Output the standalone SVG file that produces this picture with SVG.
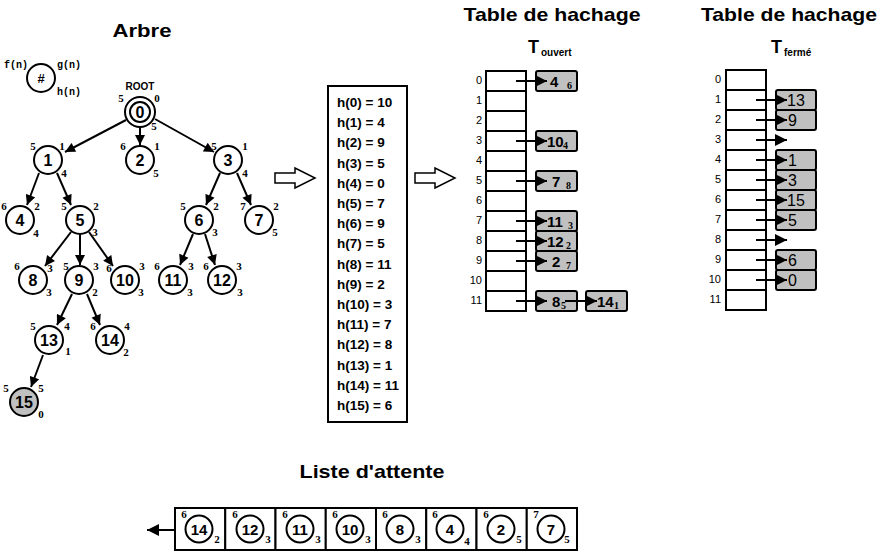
<svg xmlns="http://www.w3.org/2000/svg" width="884" height="557" viewBox="0 0 884 557">
<defs>
<marker id="ah" viewBox="0 0 10 10" refX="10" refY="5" markerWidth="11" markerHeight="10" markerUnits="userSpaceOnUse" orient="auto"><path d="M0,0 L10,5 L0,10 z" fill="#000"/></marker>
<marker id="ahb" viewBox="0 0 10 10" refX="10" refY="5" markerWidth="12" markerHeight="12" markerUnits="userSpaceOnUse" orient="auto"><path d="M0,0 L10,5 L0,10 z" fill="#000"/></marker>
</defs>
<style>
.t{font-family:"Liberation Sans",Arial,sans-serif;font-weight:bold;fill:#000}
.title{font-size:19px}
.num{font-size:16px;text-anchor:middle}
.lab{font-family:"Liberation Serif","Times New Roman",serif;font-weight:bold;font-size:11px;text-anchor:middle;fill:#000}
.leg{font-family:"Liberation Mono","Courier New",monospace;font-weight:bold;font-size:10px;fill:#000}
.nc{fill:#fff;stroke:#000;stroke-width:2}
.gc{fill:#c0c0c0;stroke:#000;stroke-width:2}
.edge{stroke:#000;stroke-width:2;fill:none;marker-end:url(#ah)}
.tarr{stroke:#000;stroke-width:2;fill:none;marker-end:url(#ahb)}
.cell{fill:#fff;stroke:#000;stroke-width:2}
.box{fill:#c0c0c0;stroke:#000;stroke-width:2}
.idx{font-family:"Liberation Sans",Arial,sans-serif;font-size:11px;text-anchor:end;fill:#000}
.bn{font-family:"Liberation Sans",Arial,sans-serif;font-weight:bold;font-size:15px;fill:#000}
.fn{font-family:"Liberation Sans",Arial,sans-serif;font-size:16px;fill:#000}
.sub{font-family:"Liberation Serif","Times New Roman",serif;font-weight:bold;font-size:10px;fill:#000}
.hl{font-family:"Liberation Sans",Arial,sans-serif;font-weight:bold;font-size:13.5px;fill:#000}
.hol{fill:#fff;stroke:#000;stroke-width:1.5}
</style>
<rect x="0" y="0" width="884" height="557" fill="#fff"/>

<!-- Titles -->
<text class="t title" x="142" y="37" text-anchor="middle" textLength="59" lengthAdjust="spacingAndGlyphs">Arbre</text>
<text class="t title" x="552" y="21" text-anchor="middle" textLength="177" lengthAdjust="spacingAndGlyphs">Table de hachage</text>
<text class="t title" x="789" y="21" text-anchor="middle" textLength="176" lengthAdjust="spacingAndGlyphs">Table de hachage</text>
<text class="t" x="528" y="53" font-size="18">T</text>
<text class="t" x="541" y="56" font-size="10">ouvert</text>
<text class="t" x="771" y="53" font-size="18">T</text>
<text class="t" x="784" y="56" font-size="10">fermé</text>
<text class="t title" x="372" y="478" text-anchor="middle" textLength="145" lengthAdjust="spacingAndGlyphs">Liste d'attente</text>

<!-- Legend -->
<g id="legend">
<circle class="nc" cx="41" cy="78" r="14"/>
<text class="t" x="41" y="83" font-size="13" text-anchor="middle">#</text>
<text class="leg" x="4" y="68">f(n)</text>
<text class="leg" x="57" y="68">g(n)</text>
<text class="leg" x="57" y="95">h(n)</text>
</g>

<!-- Connectors -->
<g id="edges">
<line class="edge" x1="126" y1="120" x2="65" y2="152"/>
<line class="edge" x1="140" y1="127" x2="140" y2="145"/>
<line class="edge" x1="155" y1="119" x2="214" y2="152"/>
<line class="edge" x1="39" y1="173" x2="27" y2="205"/>
<line class="edge" x1="57" y1="173" x2="71" y2="205"/>
<line class="edge" x1="220" y1="173" x2="206" y2="205"/>
<line class="edge" x1="237" y1="173" x2="251" y2="205"/>
<line class="edge" x1="71" y1="232" x2="45" y2="266"/>
<line class="edge" x1="80" y1="234" x2="80" y2="265"/>
<line class="edge" x1="89" y1="232" x2="113" y2="266"/>
<line class="edge" x1="193" y1="234" x2="180" y2="265"/>
<line class="edge" x1="205" y1="234" x2="215" y2="265"/>
<line class="edge" x1="72" y1="294" x2="57" y2="325"/>
<line class="edge" x1="87" y1="294" x2="100" y2="325"/>
<line class="edge" x1="43" y1="355" x2="31" y2="387"/>
</g>

<!-- Tree nodes -->
<g id="n0">
<text class="t" x="140" y="90" font-size="10" text-anchor="middle">ROOT</text>
<circle class="nc" cx="140" cy="112" r="15"/>
<circle class="nc" cx="140" cy="112" r="10"/>
<text class="t num" x="140" y="118">0</text>
<text class="lab" x="121" y="102">5</text><text class="lab" x="157" y="102">0</text><text class="lab" x="154" y="130">5</text>
</g>
<g id="n1"><circle class="nc" cx="48" cy="160" r="14"/><text class="t num" x="48" y="166">1</text>
<text class="lab" x="33" y="150">5</text><text class="lab" x="62" y="150">1</text><text class="lab" x="64" y="177">4</text></g>
<g id="n2"><circle class="nc" cx="140" cy="160" r="14"/><text class="t num" x="140" y="166">2</text>
<text class="lab" x="123" y="150">6</text><text class="lab" x="157" y="150">1</text><text class="lab" x="156" y="177">5</text></g>
<g id="n3"><circle class="nc" cx="228" cy="160" r="14"/><text class="t num" x="228" y="166">3</text>
<text class="lab" x="214" y="150">5</text><text class="lab" x="245" y="150">1</text><text class="lab" x="245" y="177">4</text></g>
<g id="n4"><circle class="nc" cx="20" cy="220" r="14"/><text class="t num" x="20" y="226">4</text>
<text class="lab" x="4" y="210">6</text><text class="lab" x="37" y="210">2</text><text class="lab" x="36" y="237">4</text></g>
<g id="n5"><circle class="nc" cx="80" cy="220" r="14"/><text class="t num" x="80" y="226">5</text>
<text class="lab" x="64" y="210">5</text><text class="lab" x="96" y="210">2</text><text class="lab" x="95" y="236">3</text></g>
<g id="n6"><circle class="nc" cx="199" cy="220" r="14"/><text class="t num" x="199" y="226">6</text>
<text class="lab" x="183" y="210">5</text><text class="lab" x="216" y="210">2</text><text class="lab" x="215" y="236">3</text></g>
<g id="n7"><circle class="nc" cx="259" cy="220" r="14"/><text class="t num" x="259" y="226">7</text>
<text class="lab" x="243" y="210">7</text><text class="lab" x="276" y="210">2</text><text class="lab" x="275" y="236">5</text></g>
<g id="n8"><circle class="nc" cx="33" cy="280" r="14"/><text class="t num" x="33" y="286">8</text>
<text class="lab" x="17" y="270">6</text><text class="lab" x="50" y="272">3</text><text class="lab" x="49" y="296">3</text></g>
<g id="n9"><circle class="nc" cx="79" cy="280" r="14"/><text class="t num" x="79" y="286">9</text>
<text class="lab" x="66" y="270">5</text><text class="lab" x="96" y="270">3</text><text class="lab" x="95" y="296">2</text></g>
<g id="n10"><circle class="nc" cx="125" cy="280" r="14"/><text class="t num" x="125" y="286">10</text>
<text class="lab" x="109" y="272">6</text><text class="lab" x="142" y="270">3</text><text class="lab" x="141" y="296">3</text></g>
<g id="n11"><circle class="nc" cx="173" cy="280" r="14"/><text class="t num" x="173" y="286">11</text>
<text class="lab" x="157" y="270">6</text><text class="lab" x="191" y="270">3</text><text class="lab" x="190" y="296">3</text></g>
<g id="n12"><circle class="nc" cx="222" cy="280" r="14"/><text class="t num" x="222" y="286">12</text>
<text class="lab" x="206" y="270">6</text><text class="lab" x="239" y="270">3</text><text class="lab" x="240" y="296">3</text></g>
<g id="n13"><circle class="nc" cx="49" cy="340" r="14"/><text class="t num" x="49" y="346">13</text>
<text class="lab" x="33" y="330">5</text><text class="lab" x="67" y="330">4</text><text class="lab" x="68" y="355">1</text></g>
<g id="n14"><circle class="nc" cx="110" cy="340" r="14"/><text class="t num" x="110" y="346">14</text>
<text class="lab" x="93" y="330">6</text><text class="lab" x="127" y="330">4</text><text class="lab" x="126" y="356">2</text></g>
<g id="n15"><circle class="gc" cx="24" cy="402" r="14"/><text class="t num" x="24" y="408">15</text>
<text class="lab" x="6" y="392">5</text><text class="lab" x="41" y="392">5</text><text class="lab" x="41" y="418">0</text></g>

<!-- Hollow arrows -->
<g id="harrow1"><polygon class="hol" points="275,173 295,173 295,168 315,178 295,188 295,183 275,183"/></g>
<g id="harrow2"><polygon class="hol" points="415,173 435,173 435,168 455,178 435,188 435,183 415,183"/></g>

<!-- Hash function box -->
<g id="hashfn">
<rect x="328" y="86" width="79" height="336" fill="#fff" stroke="#000" stroke-width="2"/>
<text class="hl" x="337" y="107">h(0) = 10</text>
<text class="hl" x="337" y="127.2">h(1) = 4</text>
<text class="hl" x="337" y="147.4">h(2) = 9</text>
<text class="hl" x="337" y="167.6">h(3) = 5</text>
<text class="hl" x="337" y="187.8">h(4) = 0</text>
<text class="hl" x="337" y="208">h(5) = 7</text>
<text class="hl" x="337" y="228.2">h(6) = 9</text>
<text class="hl" x="337" y="248.4">h(7) = 5</text>
<text class="hl" x="337" y="268.6">h(8) = 11</text>
<text class="hl" x="337" y="288.8">h(9) = 2</text>
<text class="hl" x="337" y="309">h(10) = 3</text>
<text class="hl" x="337" y="329.2">h(11) = 7</text>
<text class="hl" x="337" y="349.4">h(12) = 8</text>
<text class="hl" x="337" y="369.6">h(13) = 1</text>
<text class="hl" x="337" y="389.8">h(14) = 11</text>
<text class="hl" x="337" y="410">h(15) = 6</text>
</g>

<!-- Open hash table -->
<g id="touvert">
<rect class="cell" x="486" y="71" width="40" height="20"/>
<rect class="cell" x="486" y="91" width="40" height="20"/>
<rect class="cell" x="486" y="111" width="40" height="20"/>
<rect class="cell" x="486" y="131" width="40" height="20"/>
<rect class="cell" x="486" y="151" width="40" height="20"/>
<rect class="cell" x="486" y="171" width="40" height="20"/>
<rect class="cell" x="486" y="191" width="40" height="20"/>
<rect class="cell" x="486" y="211" width="40" height="20"/>
<rect class="cell" x="486" y="231" width="40" height="20"/>
<rect class="cell" x="486" y="251" width="40" height="20"/>
<rect class="cell" x="486" y="271" width="40" height="20"/>
<rect class="cell" x="486" y="291" width="40" height="20"/>
<text class="idx" x="482" y="84">0</text>
<text class="idx" x="482" y="104">1</text>
<text class="idx" x="482" y="124">2</text>
<text class="idx" x="482" y="144">3</text>
<text class="idx" x="482" y="164">4</text>
<text class="idx" x="482" y="184">5</text>
<text class="idx" x="482" y="204">6</text>
<text class="idx" x="482" y="224">7</text>
<text class="idx" x="482" y="244">8</text>
<text class="idx" x="482" y="264">9</text>
<text class="idx" x="482" y="284">10</text>
<text class="idx" x="482" y="304">11</text>
</g>
<g id="ouv0"><rect class="box" x="536" y="71" width="41" height="20" rx="2"/><text class="bn" x="550" y="87">4</text><text class="sub" x="567" y="89">6</text></g>
<g id="ouv3"><rect class="box" x="536" y="131" width="41" height="20" rx="2"/><text class="bn" x="547" y="147">10</text><text class="sub" x="563" y="149">4</text></g>
<g id="ouv5"><rect class="box" x="536" y="171" width="41" height="20" rx="2"/><text class="bn" x="552" y="187">7</text><text class="sub" x="566" y="189">8</text></g>
<g id="ouv7"><rect class="box" x="536" y="211" width="41" height="20" rx="2"/><text class="bn" x="547" y="227">11</text><text class="sub" x="568" y="229">3</text></g>
<g id="ouv8"><rect class="box" x="536" y="231" width="41" height="20" rx="2"/><text class="bn" x="547" y="247">12</text><text class="sub" x="566" y="249">2</text></g>
<g id="ouv9"><rect class="box" x="536" y="251" width="41" height="20" rx="2"/><text class="bn" x="552" y="267">2</text><text class="sub" x="566" y="269">7</text></g>
<g id="ouv11a"><rect class="box" x="536" y="291" width="41" height="20" rx="2"/><text class="bn" x="552" y="307">8</text><text class="sub" x="561" y="309">5</text></g>
<g id="ouv11b"><rect class="box" x="586" y="291" width="41" height="20" rx="2"/><text class="bn" x="597" y="307">14</text><text class="sub" x="614" y="309">1</text></g>
<g id="ouvarrows">
<line class="tarr" x1="516" y1="81" x2="547" y2="81"/>
<line class="tarr" x1="516" y1="141" x2="547" y2="141"/>
<line class="tarr" x1="516" y1="181" x2="547" y2="181"/>
<line class="tarr" x1="516" y1="221" x2="547" y2="221"/>
<line class="tarr" x1="516" y1="241" x2="547" y2="241"/>
<line class="tarr" x1="516" y1="261" x2="547" y2="261"/>
<line class="tarr" x1="516" y1="301" x2="547" y2="301"/>
<line class="tarr" x1="565" y1="301" x2="597" y2="301"/>
</g>

<!-- Closed hash table -->
<g id="tferme">
<rect class="cell" x="726" y="70" width="40" height="20"/>
<rect class="cell" x="726" y="90" width="40" height="20"/>
<rect class="cell" x="726" y="110" width="40" height="20"/>
<rect class="cell" x="726" y="130" width="40" height="20"/>
<rect class="cell" x="726" y="150" width="40" height="20"/>
<rect class="cell" x="726" y="170" width="40" height="20"/>
<rect class="cell" x="726" y="190" width="40" height="20"/>
<rect class="cell" x="726" y="210" width="40" height="20"/>
<rect class="cell" x="726" y="230" width="40" height="20"/>
<rect class="cell" x="726" y="250" width="40" height="20"/>
<rect class="cell" x="726" y="270" width="40" height="20"/>
<rect class="cell" x="726" y="290" width="40" height="20"/>
<text class="idx" x="721" y="83">0</text>
<text class="idx" x="721" y="103">1</text>
<text class="idx" x="721" y="123">2</text>
<text class="idx" x="721" y="143">3</text>
<text class="idx" x="721" y="163">4</text>
<text class="idx" x="721" y="183">5</text>
<text class="idx" x="721" y="203">6</text>
<text class="idx" x="721" y="223">7</text>
<text class="idx" x="721" y="243">8</text>
<text class="idx" x="721" y="263">9</text>
<text class="idx" x="721" y="283">10</text>
<text class="idx" x="721" y="303">11</text>
</g>
<g id="fer1"><rect class="box" x="776" y="90" width="40" height="20" rx="2"/><text class="fn" x="787" y="106">13</text></g>
<g id="fer2"><rect class="box" x="776" y="110" width="40" height="20" rx="2"/><text class="fn" x="788" y="126">9</text></g>
<g id="fer4"><rect class="box" x="776" y="150" width="40" height="20" rx="2"/><text class="fn" x="788" y="166">1</text></g>
<g id="fer5"><rect class="box" x="776" y="170" width="40" height="20" rx="2"/><text class="fn" x="788" y="186">3</text></g>
<g id="fer6"><rect class="box" x="776" y="190" width="40" height="20" rx="2"/><text class="fn" x="787" y="206">15</text></g>
<g id="fer7"><rect class="box" x="776" y="210" width="40" height="20" rx="2"/><text class="fn" x="788" y="226">5</text></g>
<g id="fer9"><rect class="box" x="776" y="250" width="40" height="20" rx="2"/><text class="fn" x="788" y="266">6</text></g>
<g id="fer10"><rect class="box" x="776" y="270" width="40" height="20" rx="2"/><text class="fn" x="788" y="286">0</text></g>
<g id="ferarrows">
<line class="tarr" x1="756" y1="100" x2="787" y2="100"/>
<line class="tarr" x1="756" y1="120" x2="787" y2="120"/>
<line class="tarr" x1="756" y1="140" x2="787" y2="140"/>
<line class="tarr" x1="756" y1="160" x2="787" y2="160"/>
<line class="tarr" x1="756" y1="180" x2="787" y2="180"/>
<line class="tarr" x1="756" y1="200" x2="787" y2="200"/>
<line class="tarr" x1="756" y1="220" x2="787" y2="220"/>
<line class="tarr" x1="756" y1="240" x2="787" y2="240"/>
<line class="tarr" x1="756" y1="260" x2="787" y2="260"/>
<line class="tarr" x1="756" y1="280" x2="787" y2="280"/>
</g>

<!-- Waiting list -->
<g id="liste">
<rect class="cell" x="175" y="508" width="50.25" height="42"/>
<rect class="cell" x="225.25" y="508" width="50.25" height="42"/>
<rect class="cell" x="275.5" y="508" width="50.25" height="42"/>
<rect class="cell" x="325.75" y="508" width="50.25" height="42"/>
<rect class="cell" x="376" y="508" width="50.25" height="42"/>
<rect class="cell" x="426.25" y="508" width="50.25" height="42"/>
<rect class="cell" x="476.5" y="508" width="50.25" height="42"/>
<rect class="cell" x="526.75" y="508" width="50.25" height="42"/>
<line class="tarr" x1="175" y1="530" x2="147" y2="530"/>
</g>
<g id="l14"><circle class="nc" cx="199" cy="529" r="13.5"/><text class="t" x="199" y="535" font-size="15" text-anchor="middle">14</text><text class="lab" x="184" y="518">6</text><text class="lab" x="217" y="543">2</text></g>
<g id="l12"><circle class="nc" cx="250" cy="529" r="13.5"/><text class="t" x="250" y="535" font-size="15" text-anchor="middle">12</text><text class="lab" x="235" y="518">6</text><text class="lab" x="268" y="543">3</text></g>
<g id="l11"><circle class="nc" cx="300" cy="529" r="13.5"/><text class="t" x="300" y="535" font-size="15" text-anchor="middle">11</text><text class="lab" x="285" y="518">6</text><text class="lab" x="318" y="543">3</text></g>
<g id="l10"><circle class="nc" cx="350" cy="529" r="13.5"/><text class="t" x="350" y="535" font-size="15" text-anchor="middle">10</text><text class="lab" x="335" y="518">6</text><text class="lab" x="368" y="543">3</text></g>
<g id="l8"><circle class="nc" cx="400" cy="529" r="13.5"/><text class="t" x="400" y="535" font-size="15" text-anchor="middle">8</text><text class="lab" x="385" y="518">6</text><text class="lab" x="418" y="543">3</text></g>
<g id="l4"><circle class="nc" cx="450" cy="529" r="13.5"/><text class="t" x="450" y="535" font-size="15" text-anchor="middle">4</text><text class="lab" x="435" y="518">6</text><text class="lab" x="467" y="545">4</text></g>
<g id="l2"><circle class="nc" cx="501" cy="529" r="13.5"/><text class="t" x="501" y="535" font-size="15" text-anchor="middle">2</text><text class="lab" x="486" y="518">6</text><text class="lab" x="519" y="543">5</text></g>
<g id="l7"><circle class="nc" cx="551" cy="529" r="13.5"/><text class="t" x="551" y="535" font-size="15" text-anchor="middle">7</text><text class="lab" x="536" y="518">7</text><text class="lab" x="567" y="543">5</text></g>
</svg>
